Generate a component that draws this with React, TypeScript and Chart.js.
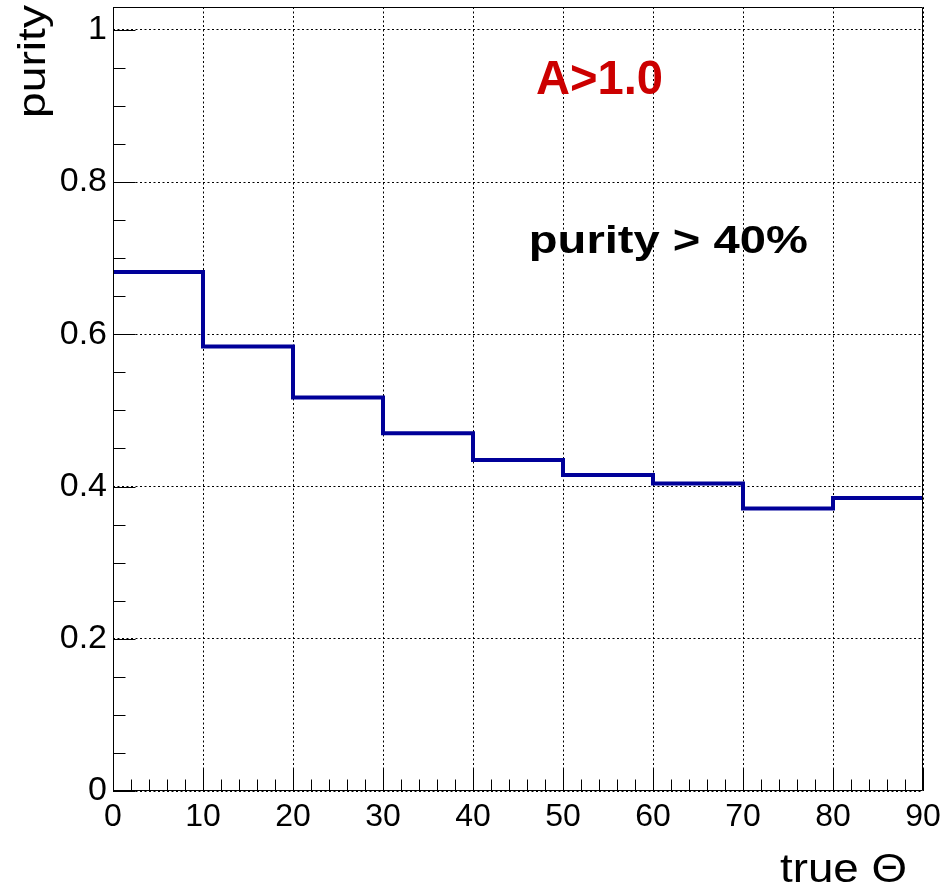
import React, { useEffect, useRef } from 'react';
import { Chart, registerables } from 'chart.js';

Chart.register(...registerables);

// ---- data ----
const binEdges = [0, 10, 20, 30, 40, 50, 60, 70, 80, 90];
const purity = [0.682, 0.584, 0.517, 0.47, 0.435, 0.415, 0.404, 0.371, 0.385];
const xTickValues = [0, 10, 20, 30, 40, 50, 60, 70, 80, 90];
const xTickLabels = ['0', '10', '20', '30', '40', '50', '60', '70', '80', '90'];
const yTickValues = [0, 0.2, 0.4, 0.6, 0.8, 1];
const yTickLabels = ['0', '0.2', '0.4', '0.6', '0.8', '1'];
const xTitle = 'true Θ';
const yTitle = 'purity';
const labelTexts = ['A>1.0', 'purity > 40%'];
const labelX = [47.0, 46.2];
const labelY = [0.916, 0.707];

const FONT = '"Liberation Sans", Arial, Helvetica, sans-serif';

function drawFitted(
  ctx: CanvasRenderingContext2D,
  text: string,
  x: number,
  y: number,
  targetWidth: number,
  font: string,
  color: string,
  rotate = 0
) {
  ctx.save();
  ctx.font = font;
  const w = ctx.measureText(text).width;
  const sx = targetWidth / w;
  ctx.translate(x, y);
  if (rotate) ctx.rotate(rotate);
  ctx.scale(sx, 1);
  ctx.fillStyle = color;
  ctx.textAlign = 'left';
  ctx.textBaseline = 'alphabetic';
  ctx.fillText(text, 0, 0);
  ctx.restore();
}

const rootFramePlugin = {
  id: 'rootFrame',
  afterDraw(chart: any) {
    const { ctx, chartArea: a, scales } = chart;
    const xs = scales.x;
    const ys = scales.y;
    ctx.save();
    ctx.strokeStyle = '#000';
    ctx.lineWidth = 1;
    const L = Math.round(a.left) + 0.5;
    const R = Math.round(a.right) - 0.5;
    const T = Math.round(a.top) + 0.5;
    const B = Math.round(a.bottom) - 0.5;
    ctx.beginPath();
    ctx.rect(L, T, R - L, B - T);
    ctx.stroke();
    // y ticks (inside, left)
    ctx.beginPath();
    for (let k = 0; k <= 40; k++) {
      const v = k * 0.05;
      if (v > ys.max + 1e-9) break;
      const py = Math.round(ys.getPixelForValue(v)) + 0.5;
      const len = k % 4 === 0 ? 22 : 12;
      ctx.moveTo(L, py);
      ctx.lineTo(L + len, py);
    }
    // x ticks (inside, bottom)
    for (let k = 0; k <= 45; k++) {
      const v = k * 2;
      if (v > xs.max + 1e-9) break;
      const px = Math.round(xs.getPixelForValue(v)) + 0.5;
      const len = k % 5 === 0 ? 22 : 11;
      ctx.moveTo(px, B);
      ctx.lineTo(px, B - len);
    }
    ctx.stroke();
    ctx.restore();

    // axis titles
    drawFitted(ctx, xTitle, a.right - 143, a.bottom + 91, 127, `40px ${FONT}`, '#000');
    drawFitted(ctx, yTitle, a.left - 68, a.top + 111, 113, `38px ${FONT}`, '#000', -Math.PI / 2);

    // annotations
    drawFitted(
      ctx,
      labelTexts[0],
      xs.getPixelForValue(labelX[0]),
      ys.getPixelForValue(labelY[0]),
      127,
      `bold 48px ${FONT}`,
      '#cc0000'
    );
    drawFitted(
      ctx,
      labelTexts[1],
      xs.getPixelForValue(labelX[1]),
      ys.getPixelForValue(labelY[1]),
      279,
      `bold 38px ${FONT}`,
      '#000'
    );
  },
};

export default function App() {
  const ref = useRef<HTMLCanvasElement>(null);
  useEffect(() => {
    const points = binEdges.map((e, i) => ({ x: e, y: purity[Math.min(i, purity.length - 1)] }));
    const chart = new Chart(ref.current as HTMLCanvasElement, {
      type: 'line',
      data: {
        datasets: [
          {
            data: points,
            borderColor: '#000099',
            borderWidth: 4,
            stepped: 'before',
            pointRadius: 0,
            fill: false,
          },
        ],
      },
      options: {
        animation: false,
        responsive: false,
        devicePixelRatio: 1,
        layout: { padding: { top: 7, right: 19, left: 0, bottom: 0 } },
        plugins: { legend: { display: false }, tooltip: { enabled: false } },
        scales: {
          x: {
            type: 'linear',
            min: 0,
            max: 90,
            afterBuildTicks: (s: any) => {
              s.ticks = xTickValues.map((v) => ({ value: v }));
            },
            afterFit: (s: any) => {
              s.height = 97;
              s.paddingLeft = 0;
              s.paddingRight = 0;
            },
            ticks: {
              color: '#000',
              padding: 7,
              maxRotation: 0,
              autoSkip: false,
              font: { family: FONT, size: 32 },
              callback: (_v: any, i: number) => xTickLabels[i],
            },
            grid: { color: '#000', lineWidth: 1, drawTicks: false },
            border: { display: false, dash: [2, 2.5] },
          },
          y: {
            type: 'linear',
            min: 0,
            max: 1.03,
            afterBuildTicks: (s: any) => {
              s.ticks = yTickValues.map((v) => ({ value: v }));
            },
            afterFit: (s: any) => {
              s.width = 113;
              s.paddingTop = 0;
              s.paddingBottom = 0;
            },
            ticks: {
              color: '#000',
              padding: 6,
              autoSkip: false,
              font: { family: FONT, size: 34 },
              callback: (_v: any, i: number) => yTickLabels[i],
            },
            grid: { color: '#000', lineWidth: 1, drawTicks: false },
            border: { display: false, dash: [2, 2.5] },
          },
        },
      },
      plugins: [rootFramePlugin],
    } as any);
    return () => chart.destroy();
  }, []);
  return (
    <div style={{ position: 'absolute', left: 0, top: 0, width: 942, height: 888, background: '#fff' }}>
      <canvas ref={ref} width={942} height={888} style={{ display: 'block', width: 942, height: 888 }} />
    </div>
  );
}
